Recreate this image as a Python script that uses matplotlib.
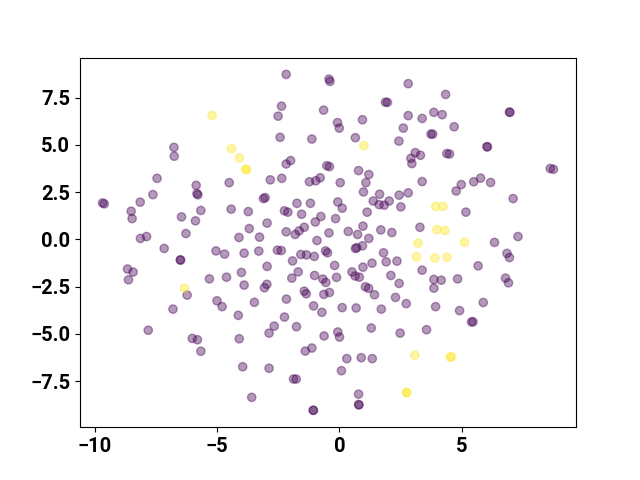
import matplotlib
matplotlib.use('Agg')
import matplotlib.pyplot as plt
import numpy as np

# Class 0 points (purple)
x0 = [-6.77, -6.76, -7.46, -5.86, -4.51, -2.18, -0.43, -0.39, 2.81, -2.37,
      -2.51, -0.65, 1.88, 1.96, 2.81, -0.08, -0.01, 0.94, 2.61, -2.43,
      -1.13, 0.65, 2.43, -2.18, -2.00, -0.52, -0.41, 0.78, 1.20, -2.83,
      -2.36, -1.23, -0.97, -0.79, 0.03, 1.08, 2.92, 2.96, 3.10, 4.34,
      6.95, 6.97, 3.38, 3.86, 4.20, 4.69, 3.74, 3.81, 6.03, 6.05,
      3.31, 4.39, 4.50, 8.62, 8.75, 3.38, 4.98, 5.49, 5.77, 6.18,
      -5.83, -5.79, -9.69, -9.62, -8.15, -8.52, -8.48, -7.63, -6.46, -5.67,
      -5.89, -4.43, -3.73, -8.14, -7.89, -6.28, -4.11, -3.69, -7.17, -5.05,
      -4.70, -3.90, -6.51, -6.50, -8.67, -8.44, -8.63, -5.32, -4.62, -4.01,
      -3.90, -6.23, -5.01, -4.80, -6.81, 0.98, 1.64, 2.44, 2.81, 1.38,
      1.62, 1.83, 2.03, 2.51, -3.11, -3.04, -1.74, -1.19, -0.07, 0.11,
      -2.25, -2.11, -1.55, 1.13, -0.76, -0.99, -0.16, -2.96, -2.18, -1.65,
      -1.44, -1.81, -0.43, 0.36, 0.74, 0.96, 1.69, 2.14, 1.20, -3.27,
      -0.92, 0.65, 0.71, 0.94, -3.30, -2.54, -2.38, -1.58, -1.35, -1.03,
      -0.57, -0.49, 1.80, 1.91, 2.35, -1.92, 1.33, -0.20, 0.96, -2.96,
      -1.69, -1.95, -1.02, -0.68, -0.56, -0.12, 0.51, 0.64, 0.81, 2.10,
      2.44, -3.07, -2.97, -1.44, -1.36, -0.64, -0.41, 1.06, 1.19, 1.43,
      2.29, 2.73, -3.48, -2.17, -1.06, 0.11, 0.68, 1.71, 4.77, 7.10,
      5.17, 3.29, 6.34, 7.30, 6.85, 6.95, 5.67, 3.38, 3.86, 4.16,
      3.86, 4.83, 6.79, 6.91, 5.88, 3.93, 4.91, -4.14, -7.82, -6.02,
      -5.81, -4.10, -5.67, -3.96, -3.59, -0.72, -2.25, -2.67, -2.88, -1.76,
      -0.63, -0.07, 0.00, 1.30, 2.48, -1.40, -1.13, 0.30, 0.89, 1.34,
      -2.88, 0.08, -1.88, -1.77, 0.78, 0.78, 0.80, -1.08, -1.06, 5.40,
      5.46, 3.56]
y0 = [4.87, 4.40, 3.23, 2.86, 3.00, 8.73, 8.48, 8.36, 8.24, 7.05,
      6.52, 6.84, 7.26, 7.25, 6.55, 6.18, 5.89, 6.33, 5.89, 5.40,
      5.31, 5.38, 5.20, 3.99, 4.17, 3.90, 3.85, 3.64, 3.43, 3.15,
      3.23, 3.05, 3.10, 3.26, 3.00, 3.00, 4.29, 4.01, 4.59, 7.67,
      6.74, 6.72, 6.40, 6.72, 6.60, 5.96, 5.57, 5.57, 4.91, 4.89,
      4.45, 4.54, 4.52, 3.75, 3.71, 3.06, 2.90, 3.05, 3.24, 3.01,
      2.42, 2.36, 1.93, 1.88, 1.97, 1.49, 1.10, 2.37, 1.19, 1.53,
      0.98, 1.60, 1.47, 0.05, 0.15, 0.31, 0.10, 0.57, -0.48, -0.61,
      -0.78, -0.73, -1.08, -1.10, -1.57, -1.73, -2.14, -2.09, -2.00, -1.75,
      -2.42, -2.95, -3.25, -3.56, -3.69, 2.51, 2.39, 2.34, 2.46, 2.03,
      1.84, 1.81, 2.03, 1.72, 2.16, 2.21, 1.91, 1.91, 1.98, 1.65,
      1.51, 1.44, 1.33, 1.44, 1.21, 0.92, 1.10, 0.86, 0.40, 0.45,
      0.64, 0.26, 0.34, 0.42, 0.26, 0.70, 0.50, 0.36, 0.05, 0.12,
      -0.06, -0.48, -0.44, -0.34, -0.62, -0.57, -0.59, -0.80, -0.82, -0.90,
      -0.61, -0.71, -0.71, -1.19, -1.15, -1.14, -1.26, -1.38, -1.47, -1.43,
      -1.72, -2.05, -1.91, -2.10, -2.28, -2.01, -1.72, -1.94, -2.00, -1.91,
      -2.33, -2.56, -2.38, -2.74, -2.88, -2.91, -2.81, -2.51, -2.59, -2.93,
      -3.07, -3.40, -3.33, -3.16, -3.52, -3.61, -3.63, -3.69, 2.56, 2.16,
      1.44, 0.64, -0.16, 0.15, -0.74, -0.96, -1.40, -1.63, -2.12, -2.16,
      -2.58, -2.09, -2.05, -2.30, -3.34, -3.56, -3.77, -4.02, -4.81, -5.24,
      -5.31, -5.26, -5.92, -6.74, -8.36, -3.86, -4.11, -4.59, -4.96, -4.62,
      -5.11, -4.90, -5.17, -4.69, -4.96, -5.91, -5.75, -6.31, -6.26, -6.31,
      -6.82, -6.95, -7.39, -7.39, -8.19, -8.74, -8.76, -9.04, -9.05, -4.37,
      -4.36, -4.78]

# Class 1 points (yellow)
x1 = [-5.21, -4.42, -4.09, -3.84, -3.80, 1.00, -6.34, 3.93, 4.23, 3.98,
      4.31, 3.21, 5.11, 3.15, 3.90, 4.40, 3.08, 2.74, 2.75, 4.53, 4.57]
y1 = [6.56, 4.80, 4.31, 3.72, 3.68, 4.96, -2.58, 1.74, 1.74, 0.52,
      0.47, -0.20, -0.15, -0.92, -0.99, -0.94, -6.13, -8.09, -8.12, -6.24, -6.21]

x_ticks = [-10, -5, 0, 5]
y_ticks = [-7.5, -5.0, -2.5, 0.0, 2.5, 5.0, 7.5]

x = np.array(x0 + x1)
y = np.array(y0 + y1)
labels = np.array([0] * len(x0) + [1] * len(x1))

fig, ax = plt.subplots(figsize=(6.4, 4.8), dpi=100)
ax.scatter(x, y, c=labels, cmap='viridis', alpha=0.4)
ax.set_xticks(x_ticks)
ax.set_yticks(y_ticks)
for lab in ax.get_xticklabels() + ax.get_yticklabels():
    lab.set_fontfamily('Roboto')
    lab.set_fontweight('bold')
    lab.set_fontsize(14.5)
fig.savefig('out.png')
